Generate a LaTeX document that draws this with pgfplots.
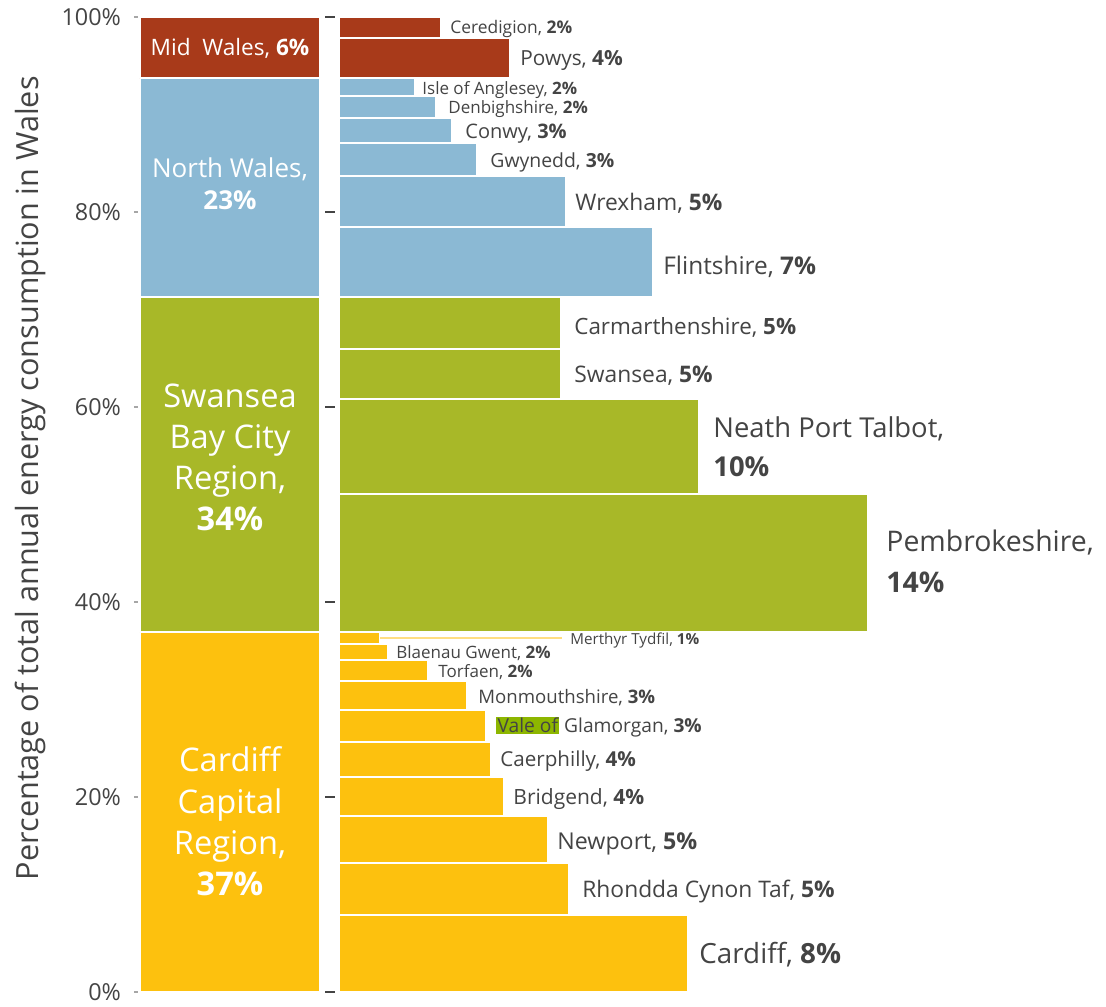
\documentclass[border=0pt]{standalone}
\usepackage{pgfplots}
\pgfplotsset{compat=1.18}
\usepackage{fontspec}
\setmainfont{Open Sans}
\definecolor{midred}{RGB}{168,58,26}
\definecolor{nblue}{RGB}{139,185,212}
\definecolor{sgreen}{RGB}{168,184,40}
\definecolor{cyellow}{RGB}{253,193,14}
\definecolor{tg}{RGB}{68,68,68}
\definecolor{valegreen}{RGB}{141,182,0}
\definecolor{lightyel}{RGB}{255,222,130}
\setlength{\fboxsep}{0.6pt}
% rectangle: colour, x0, x1, y0, y1
\newcommand{\rect}[5]{\addplot[fill=#1, draw=white, line width=1pt, line join=miter] coordinates {(#2,#4) (#3,#4) (#3,#5) (#2,#5) (#2,#4)};}
% right-hand label: x, y, size(pt), text
\newcommand{\lab}[4]{\node[anchor=base west, inner sep=0pt, text=tg, font=\fontsize{#3}{#3}\selectfont, yshift={-0.36*#3pt}] at (axis cs:#1,#2) {#4};}
% left-column label: y, size, text
\newcommand{\clab}[3]{\node[anchor=base, inner sep=0pt, text=white, font=\fontsize{#2}{#2}\selectfont, yshift={-0.36*#2pt}] at (axis cs:230,#1) {#3};}
\begin{document}
\begin{tikzpicture}
\begin{axis}[
  scale only axis,
  width=484pt, height=503pt,
  xmin=138, xmax=1106,
  ymin=-1.436, ymax=101.74,
  clip=false,
  axis line style={draw=none},
  xtick=\empty,
  ytick={0,20,40,60,80,100},
  yticklabel={\pgfmathprintnumber{\tick}\%},
  /pgf/number format/assume math mode=true,
  yticklabel style={font=\fontsize{11.7}{12}\selectfont, text=tg, xshift=-3pt},
  ytick pos=left,
  tick align=outside,
  major tick length=2pt,
  tick style={gray!70, line width=0.6pt},
]
% ---- left column: regions
\rect{cyellow}{140}{320}{0}{36.9}
\rect{sgreen}{140}{320}{36.9}{71.3}
\rect{nblue}{140}{320}{71.3}{93.7}
\rect{midred}{140}{320}{93.7}{100}
% ---- right: local authorities (x end, y0, y1)
% Cardiff Capital Region
\rect{cyellow}{339}{688}{0}{7.9}
\rect{cyellow}{339}{569}{7.9}{13.2}
\rect{cyellow}{339}{548}{13.2}{18.05}
\rect{cyellow}{339}{504}{18.05}{22.05}
\rect{cyellow}{339}{491}{22.05}{25.6}
\rect{cyellow}{339}{486}{25.6}{28.9}
\rect{cyellow}{339}{467}{28.9}{31.9}
\rect{cyellow}{339}{428}{31.9}{34.05}
\rect{cyellow}{339}{388}{34.05}{35.7}
\rect{cyellow}{339}{380}{35.7}{36.9}
\addplot[lightyel, line width=1pt] coordinates {(380,36.3) (562,36.3)};
% Swansea Bay City Region
\rect{sgreen}{339}{868}{36.9}{51.1}
\rect{sgreen}{339}{699}{51.1}{60.8}
\rect{sgreen}{339}{561}{60.8}{65.9}
\rect{sgreen}{339}{561}{65.9}{71.3}
% North Wales
\rect{nblue}{339}{653}{71.3}{78.5}
\rect{nblue}{339}{566}{78.5}{83.7}
\rect{nblue}{339}{477}{83.7}{87.1}
\rect{nblue}{339}{452}{87.1}{89.6}
\rect{nblue}{339}{436}{89.6}{91.9}
\rect{nblue}{339}{415}{91.9}{93.7}
% Mid Wales
\rect{midred}{339}{510}{93.7}{97.8}
\rect{midred}{339}{441}{97.8}{100}
% ---- second set of ticks between the columns
\addplot[tg, line width=0.8pt] coordinates {(325,0) (335,0)};
\addplot[tg, line width=0.8pt] coordinates {(325,20) (335,20)};
\addplot[tg, line width=0.8pt] coordinates {(325,40) (335,40)};
\addplot[tg, line width=0.8pt] coordinates {(325,60) (335,60)};
\addplot[tg, line width=0.8pt] coordinates {(325,80) (335,80)};
\addplot[tg, line width=0.8pt] coordinates {(325,100) (335,100)};
% ---- left column labels
\clab{96.9}{11.3}{Mid\ \ Wales, \textbf{6\%}}
\clab{84.5}{13}{North Wales,}
\clab{81.2}{13}{\textbf{23\%}}
\clab{61.2}{16.3}{Swansea}
\clab{56.9}{16.3}{Bay City}
\clab{52.7}{16.3}{Region,}
\clab{48.5}{16.3}{\textbf{34\%}}
\clab{23.8}{16.3}{Cardiff}
\clab{19.5}{16.3}{Capital}
\clab{15.3}{16.3}{Region,}
\clab{11.1}{16.3}{\textbf{37\%}}
% ---- right labels
\lab{450}{98.97}{8.7}{Ceredigion, \textbf{2\%}}
\lab{520}{95.8}{10.4}{Powys, \textbf{4\%}}
\lab{422}{92.7}{8.5}{Isle of Anglesey, \textbf{2\%}}
\lab{448}{90.77}{8.5}{Denbighshire, \textbf{2\%}}
\lab{465}{88.3}{10}{Conwy, \textbf{3\%}}
\lab{490}{85.3}{9.7}{Gwynedd, \textbf{3\%}}
\lab{575}{81.0}{11.4}{Wrexham, \textbf{5\%}}
\lab{663}{74.5}{12.2}{Flintshire, \textbf{7\%}}
\lab{574}{68.3}{11.2}{Carmarthenshire, \textbf{5\%}}
\lab{574}{63.4}{11.4}{Swansea, \textbf{5\%}}
\lab{713}{57.9}{13.7}{Neath Port Talbot,}
\lab{713}{53.9}{13.7}{\textbf{10\%}}
\lab{886}{46.2}{14.2}{Pembrokeshire,}
\lab{886}{42.0}{14.2}{\textbf{14\%}}
\lab{570}{36.2}{7.6}{Merthyr Tydfil, \textbf{1\%}}
\lab{396}{34.8}{8.5}{Blaenau Gwent, \textbf{2\%}}
\lab{438}{32.9}{8.5}{Torfaen, \textbf{2\%}}
\lab{478}{30.26}{9.3}{Monmouthshire, \textbf{3\%}}
\lab{496}{27.3}{9.6}{\colorbox{valegreen}{Vale of} Glamorgan, \textbf{3\%}}
\lab{500}{23.9}{10.3}{Caerphilly, \textbf{4\%}}
\lab{513}{20.0}{10.5}{Bridgend, \textbf{4\%}}
\lab{557}{15.5}{11.6}{Newport, \textbf{5\%}}
\lab{582}{10.56}{11.4}{Rhondda Cynon Taf, \textbf{5\%}}
\lab{699}{4.0}{13.9}{Cardiff, \textbf{8\%}}
% ---- y label
\node[rotate=90, text=tg, font=\fontsize{15.3}{16}\selectfont] at (axis cs:30,52.7) {Percentage of total annual energy consumption in Wales};
\coordinate (bl) at (axis cs:0,-1.436);
\coordinate (tr) at (axis cs:1106,101.74);
\end{axis}
\pgfresetboundingbox
\path[use as bounding box] (bl) rectangle (tr);
\end{tikzpicture}
\end{document}
